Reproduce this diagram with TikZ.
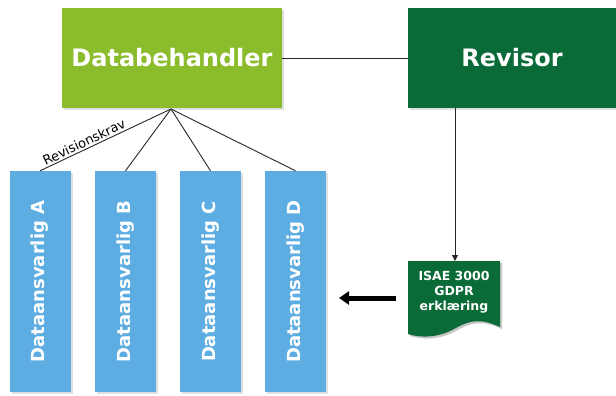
\documentclass[tikz,border=0pt]{standalone}
\usepackage{fontspec}
\setmainfont{DejaVu Sans}
\usetikzlibrary{shadows,arrows.meta,calc}
\definecolor{limegreen}{HTML}{8BBC2C}
\definecolor{darkgreen}{HTML}{0B6B38}
\definecolor{skyblue}{HTML}{5DADE2}
\tikzset{
  softshadow/.style={drop shadow={opacity=0.25,shadow xshift=2pt,shadow yshift=-2pt}},
  mainbox/.style={rectangle,text=white,font=\bfseries\fontsize{24}{28}\selectfont,
    minimum height=100pt,softshadow,inner sep=0pt},
  controller/.style={rectangle,fill=skyblue,text=white,minimum width=61pt,minimum height=221pt,
    softshadow,inner sep=0pt},
  link/.style={draw=black!85,line width=0.9pt},
}
\begin{document}
\begin{tikzpicture}[x=1pt,y=-1pt]
\useasboundingbox (0,0) rectangle (616,396);

% top row
\node[mainbox,fill=limegreen,minimum width=220pt] (proc) at (172,58) {Databehandler};
\node[mainbox,fill=darkgreen,minimum width=208pt] (aud) at (512,58) {Revisor};
\draw[link] (proc.east) -- (aud.west);

% data controllers
\foreach \n/\x/\l in {a/40/A,b/125.5/B,c/210.5/C,d/295.5/D}{
  \node[controller] (ctl\n) at (\x,281.5) {};
  \node[rotate=90,text=white,font=\bfseries\fontsize{18}{22}\selectfont] at (ctl\n.center) {Dataansvarlig \l};
}
\coordinate (apex) at (171,109);
\foreach \n in {a,b,c,d}{ \draw[link] (apex) -- (ctl\n.north); }
\node[font=\fontsize{13}{15}\selectfont,rotate=25.5,anchor=south,inner sep=2pt]
  at ($(apex)!0.64!(ctla.north)$) {Revisionskrav};

% audit report document
\fill[black,opacity=0.22] (410,263) -- (502,263) -- (502,329)
  .. controls (482,320) and (472,322) .. (456,331)
  .. controls (440,340) and (422,340) .. (410,336) -- cycle;
\fill[darkgreen] (408,261) -- (500,261) -- (500,327)
  .. controls (480,318) and (470,320) .. (454,329)
  .. controls (438,338) and (420,338) .. (408,334) -- cycle;
\node[text=white,font=\bfseries\fontsize{12.5}{15}\selectfont,align=center] (doc) at (454,292)
  {ISAE 3000\\GDPR\\erklæring};
\coordinate (doctop) at (455,261);
\draw[link,-{Triangle[length=6pt,width=6pt]}] (aud.south -| doctop) -- (doctop);

% delivery arrow
\coordinate (from) at (396,298);
\coordinate (to) at (339,298);
\draw[line width=5pt,-{Triangle[length=10pt,width=13pt]}] (from) -- (to);
\end{tikzpicture}
\end{document}
